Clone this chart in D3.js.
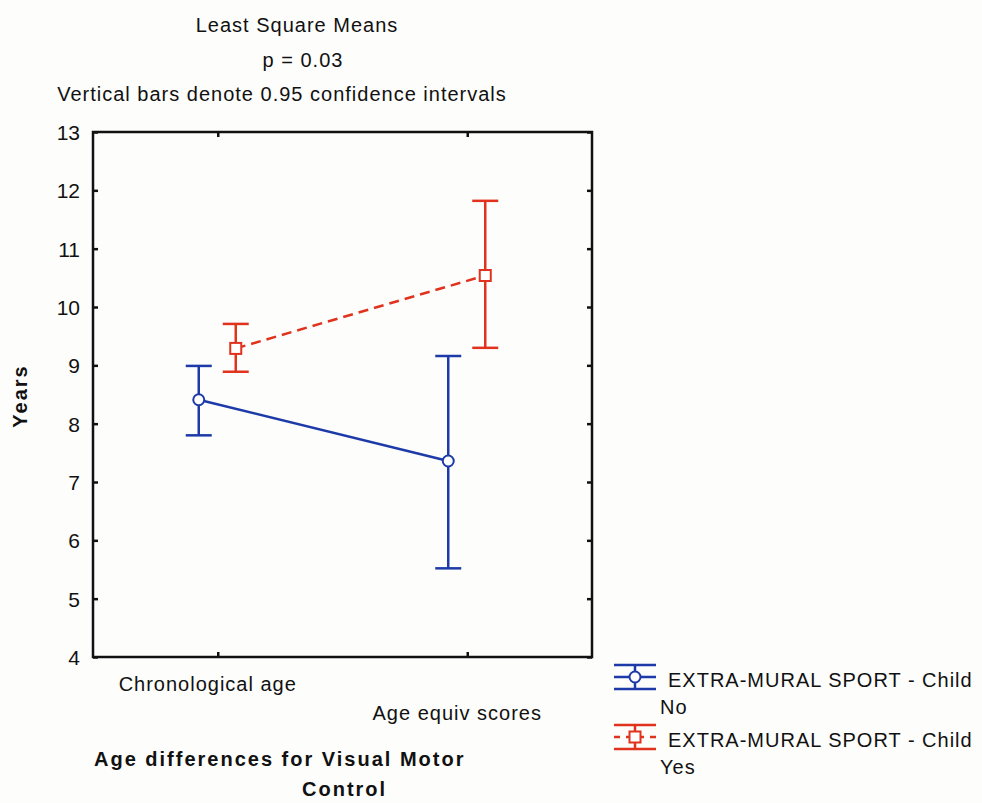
<!DOCTYPE html>
<html>
<head>
<meta charset="utf-8">
<script src="https://cdn.jsdelivr.net/npm/d3@7/dist/d3.min.js"></script>
<style>
  html, body { margin: 0; padding: 0; background: #fdfdfc; }
  svg { display: block; }
  text { font-family: "Liberation Sans", Arial, sans-serif; fill: #111; font-size: 20px; letter-spacing: 1px; }
  text.bold { font-weight: bold; letter-spacing: 2px; }
</style>
</head>
<body>
<svg id="chart" width="982" height="803"></svg>
<script>
// Least-square means with 95% confidence intervals
const categories = ["Chronological age", "Age equiv scores"];
const groups = ["No", "Yes"];
const meansNo = [8.41, 7.36];
const lowerNo = [7.80, 5.52];
const upperNo = [8.99, 9.16];
const meansYes = [9.29, 10.54];
const lowerYes = [8.89, 9.30];
const upperYes = [9.71, 11.82];
const yTicks = [4, 5, 6, 7, 8, 9, 10, 11, 12, 13];
const titleLines = ["Least Square Means", "p = 0.03", "Vertical bars denote 0.95 confidence intervals"];
const legendLabel = "EXTRA-MURAL SPORT - Child";

const series = [
  { group: groups[0], means: meansNo, lower: lowerNo, upper: upperNo, color: "#1d3aa8", dash: null, marker: "circle", offset: -19 },
  { group: groups[1], means: meansYes, lower: lowerYes, upper: upperYes, color: "#e0321c", dash: "10,6", marker: "square", offset: 18 }
];

const svg = d3.select("#chart");
const plot = { left: 93, top: 132, right: 592, bottom: 657 };

const x = d3.scalePoint().domain(categories).range([plot.left, plot.right]).padding(0.5);
const y = d3.scaleLinear().domain([4, 13]).range([plot.bottom, plot.top]);

// Title block above the plot
const titleCenters = [297, 303, 282];
svg.selectAll("text.title").data(titleLines).enter().append("text")
  .attr("class", "title")
  .attr("x", (d, i) => titleCenters[i]).attr("y", (d, i) => 32 + i * 34.5)
  .attr("text-anchor", "middle")
  .text(d => d);

// Frame
svg.append("rect")
  .attr("x", plot.left).attr("y", plot.top)
  .attr("width", plot.right - plot.left).attr("height", plot.bottom - plot.top)
  .attr("fill", "none").attr("stroke", "#111").attr("stroke-width", 2.5);

// Y axes (inner ticks on both sides)
const yLeft = svg.append("g").attr("transform", `translate(${plot.left},0)`)
  .call(d3.axisLeft(y).tickValues(yTicks).tickSize(-5).tickPadding(13).tickFormat(d3.format("d")));
const yRight = svg.append("g").attr("transform", `translate(${plot.right},0)`)
  .call(d3.axisRight(y).tickValues(yTicks).tickSize(-5).tickFormat(""));
// X axes (inner ticks top and bottom)
const xBottom = svg.append("g").attr("transform", `translate(0,${plot.bottom})`)
  .call(d3.axisBottom(x).tickSize(-5).tickFormat(""));
const xTop = svg.append("g").attr("transform", `translate(0,${plot.top})`)
  .call(d3.axisTop(x).tickSize(-5).tickFormat(""));
[yLeft, yRight, xBottom, xTop].forEach(g => {
  g.attr("font-family", null).attr("font-size", null);
  g.select(".domain").remove();
  g.selectAll(".tick line").attr("stroke", "#111").attr("stroke-width", 2.5);
});
yLeft.selectAll(".tick text").style("fill", "#111").style("letter-spacing", "0px")
  .style("font-size", "21px").attr("dy", "0.36em");

// Category labels, staggered
svg.selectAll("text.cat").data(categories).enter().append("text")
  .attr("class", "cat")
  .attr("x", d => x(d) - 10)
  .attr("y", (d, i) => 691 + i * 29)
  .attr("text-anchor", "middle")
  .text(d => d);

// Axis titles
svg.append("text").attr("class", "bold")
  .attr("transform", "translate(27,396) rotate(-90)")
  .attr("text-anchor", "middle")
  .text("Years");
svg.append("text").attr("class", "bold").attr("x", 94).attr("y", 766)
  .text("Age differences for Visual Motor");
svg.append("text").attr("class", "bold").attr("x", 302).attr("y", 796)
  .text("Control");

const capHalf = 13;

function drawMarker(g, cx, cy, s) {
  if (s.marker === "circle") {
    g.append("circle").attr("cx", cx).attr("cy", cy).attr("r", 5.5)
      .attr("fill", "#fff").attr("stroke", s.color).attr("stroke-width", 2);
  } else {
    g.append("rect").attr("x", cx - 5.5).attr("y", cy - 5.5).attr("width", 11).attr("height", 11)
      .attr("fill", "#fff").attr("stroke", s.color).attr("stroke-width", 2);
  }
}

series.forEach(s => {
  const g = svg.append("g");
  const px = i => x(categories[i]) + s.offset;
  const pts = categories.map((c, i) => [px(i), y(s.means[i])]);
  g.append("path").attr("d", d3.line()(pts))
    .attr("fill", "none").attr("stroke", s.color).attr("stroke-width", 2.5)
    .attr("stroke-dasharray", s.dash);
  categories.forEach((c, i) => {
    const cx = px(i);
    g.append("line").attr("x1", cx).attr("x2", cx).attr("y1", y(s.lower[i])).attr("y2", y(s.upper[i]))
      .attr("stroke", s.color).attr("stroke-width", 2.5);
    [s.lower[i], s.upper[i]].forEach(v => {
      g.append("line").attr("x1", cx - capHalf).attr("x2", cx + capHalf).attr("y1", y(v)).attr("y2", y(v))
        .attr("stroke", s.color).attr("stroke-width", 2.5);
    });
    drawMarker(g, cx, y(s.means[i]), s);
  });
});

// Legend
series.forEach((s, i) => {
  const cy = 677 + i * 60;
  const cx = 635;
  const g = svg.append("g");
  [-12, 12].forEach(dy => {
    g.append("line").attr("x1", cx - 21).attr("x2", cx + 21).attr("y1", cy + dy).attr("y2", cy + dy)
      .attr("stroke", s.color).attr("stroke-width", 2.5);
  });
  g.append("line").attr("x1", cx).attr("x2", cx).attr("y1", cy - 12).attr("y2", cy + 12)
    .attr("stroke", s.color).attr("stroke-width", 2.5);
  g.append("line").attr("x1", cx - 21).attr("x2", cx + 21).attr("y1", cy).attr("y2", cy)
    .attr("stroke", s.color).attr("stroke-width", 2.5).attr("stroke-dasharray", s.dash ? "6,6" : null);
  drawMarker(g, cx, cy, s);
  g.append("text").attr("x", 668).attr("y", cy + 10).text(legendLabel);
  g.append("text").attr("x", 660).attr("y", cy + 37).text(s.group);
});
</script>
</body>
</html>
